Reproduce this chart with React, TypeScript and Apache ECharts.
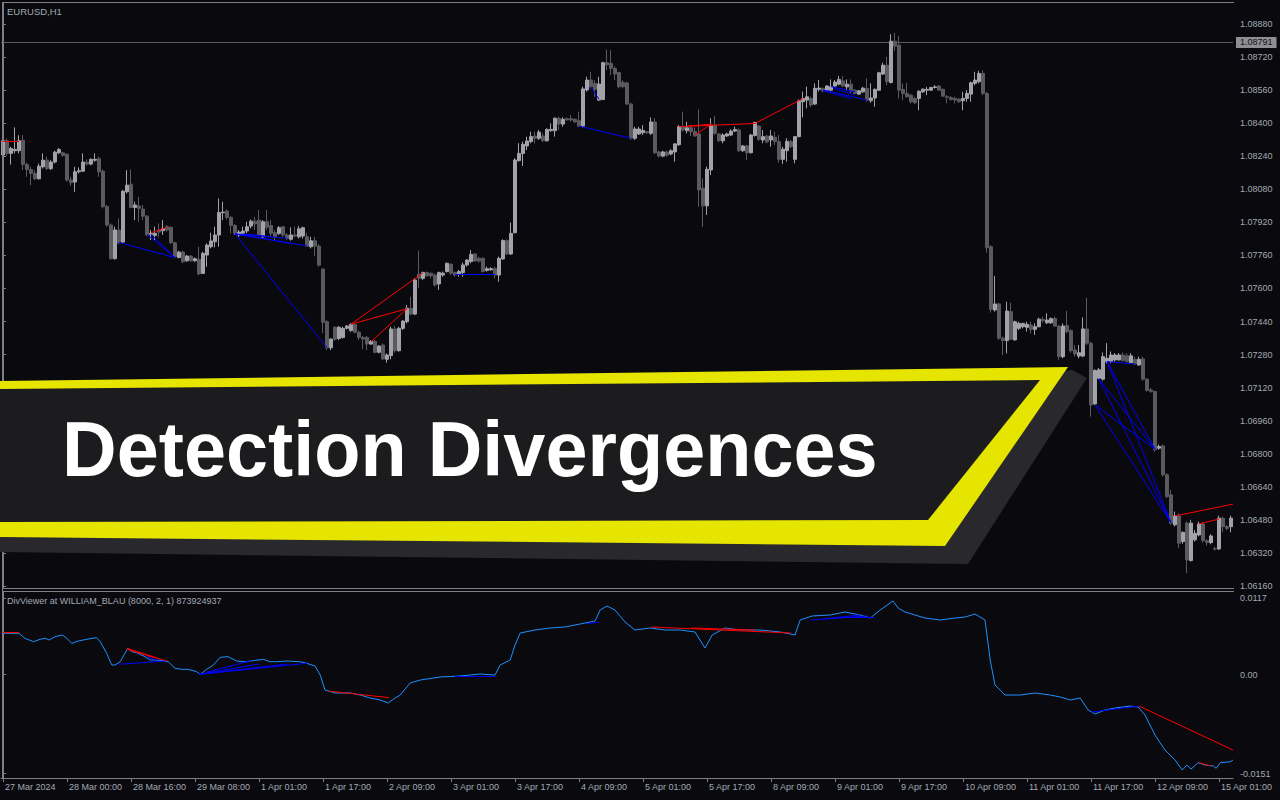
import React, { useEffect, useRef } from 'react';
import * as echarts from 'echarts';

// ---------- texts ----------
const symbolTitle = 'EURUSD,H1';
const indicatorTitle = 'DivViewer at WILLIAM_BLAU (8000, 2, 1) 873924937';
const bannerText = 'Detection Divergences';

// ---------- axis ticks ----------
const dateTicks = ['27 Mar 2024', '28 Mar 00:00', '28 Mar 16:00', '29 Mar 08:00', '1 Apr 01:00', '1 Apr 17:00', '2 Apr 09:00', '3 Apr 01:00', '3 Apr 17:00', '4 Apr 09:00', '5 Apr 01:00', '5 Apr 17:00', '8 Apr 09:00', '9 Apr 01:00', '9 Apr 17:00', '10 Apr 09:00', '11 Apr 01:00', '11 Apr 17:00', '12 Apr 09:00', '15 Apr 01:00'];
const BARS_PER_DATE_TICK = 16;
const priceTicks = [1.0616, 1.0632, 1.0648, 1.0664, 1.068, 1.0696, 1.0712, 1.0728, 1.0744, 1.076, 1.0776, 1.0792, 1.0808, 1.0824, 1.084, 1.0856, 1.0872, 1.0888];
const indicatorTicks = [0.0117, 0, -0.0151];
const bidPrice = 1.08791;
const POINT = 1e-5; // candle values below are in points (1e-5)

// ---------- H1 candles (points) ----------
const opens = [
  108246,108315,108254,108267,108267,108318,108200,108176,108157,108131,
  108189,108221,108180,108212,108257,108257,108250,108125,108115,108165,
  108168,108212,108202,108221,108228,108168,107996,107907,107744,107883,
  107825,108068,108105,107992,107999,107984,107950,107862,107857,107883,
  107880,107899,107896,107821,107750,107776,107734,107757,107734,107741,
  107673,107762,107802,107826,107859,107967,107975,107944,107905,107859,
  107867,107878,107902,107926,107931,107850,107923,107905,107870,107867,
  107899,107859,107838,107859,107850,107854,107850,107802,107831,107805,
  107694,107439,107313,107412,107358,107363,107407,107396,107426,107388,
  107363,107363,107331,107344,107291,107326,107257,107275,107404,107299,
  107407,107439,107504,107476,107669,107649,107677,107674,107665,107622,
  107665,107682,107717,107677,107669,107677,107714,107730,107767,107746,
  107746,107687,107690,107696,107665,107743,107832,107767,107870,108219,
  108254,108290,108311,108338,108327,108338,108315,108364,108364,108424,
  108396,108422,108422,108419,108412,108386,108561,108609,108593,108512,
  108515,108693,108690,108665,108645,108598,108595,108493,108327,108348,
  108354,108359,108351,108406,108261,108241,108261,108251,108261,108296,
  108383,108364,108378,108359,108348,108085,108000,108174,108391,108348,
  108315,108338,108343,108362,108367,108267,108290,108257,108341,108386,
  108319,108338,108319,108332,108311,108225,108267,108311,108225,108335,
  108504,108512,108520,108493,108564,108568,108560,108560,108580,108589,
  108605,108576,108589,108560,108541,108552,108568,108509,108522,108560,
  108638,108681,108597,108797,108778,108564,108544,108536,108520,108520,
  108552,108560,108560,108573,108580,108564,108528,108525,108520,108517,
  108509,108520,108541,108593,108601,108641,108544,107802,107496,107525,
  107359,107348,107488,107351,107407,107415,107412,107423,107402,107415,
  107451,107434,107434,107455,107418,107270,107421,107396,107302,107273,
  107273,107404,107335,107041,107166,107161,107246,107246,107254,107254,
  107278,107274,107241,107257,107230,107259,107161,107109,107101,106827,
  106838,106698,106601,106456,106499,106375,106464,106283,106383,106407,
  106460,106379,106370,106341,106339,106488,106447,106447,
];
const closes = [
  108315,108254,108278,108273,108315,108200,108176,108157,108131,108192,
  108221,108181,108212,108260,108273,108244,108125,108112,108165,108170,
  108212,108202,108225,108225,108165,107996,107907,107744,107883,107821,
  108071,108100,107992,108004,107988,107950,107859,107867,107867,107873,
  107891,107883,107821,107754,107776,107729,107757,107734,107744,107670,
  107770,107810,107830,107859,107968,107970,107944,107905,107867,107873,
  107878,107899,107926,107912,107859,107923,107896,107867,107850,107894,
  107859,107842,107859,107854,107889,107894,107805,107831,107805,107713,
  107436,107313,107355,107354,107412,107407,107418,107426,107388,107363,
  107355,107331,107344,107291,107321,107259,107278,107404,107299,107407,
  107442,107504,107476,107641,107649,107677,107661,107661,107617,107677,
  107674,107722,107674,107665,107682,107714,107738,107765,107733,107733,
  107682,107696,107696,107665,107746,107832,107767,107867,108222,108254,
  108298,108314,108335,108327,108357,108315,108370,108370,108424,108396,
  108419,108416,108416,108406,108386,108566,108609,108577,108564,108590,
  108693,108683,108665,108638,108577,108577,108493,108327,108372,108372,
  108365,108354,108406,108257,108241,108261,108245,108267,108300,108383,
  108367,108378,108359,108338,108077,108000,108177,108391,108351,108315,
  108343,108348,108362,108370,108267,108290,108257,108343,108403,108322,
  108335,108309,108338,108311,108225,108274,108312,108286,108335,108509,
  108520,108528,108488,108569,108570,108557,108580,108576,108599,108612,
  108580,108589,108557,108544,108557,108570,108512,108522,108564,108644,
  108681,108601,108797,108773,108560,108544,108528,108504,108499,108555,
  108565,108564,108573,108576,108560,108531,108525,108515,108512,108504,
  108520,108544,108596,108609,108641,108544,107797,107499,107525,107359,
  107348,107491,107354,107439,107431,107431,107426,107402,107415,107451,
  107444,107447,107454,107418,107270,107418,107391,107299,107283,107289,
  107404,107335,107036,107203,107206,107270,107262,107278,107278,107278,
  107251,107246,107274,107235,107257,107161,107106,107101,106819,106835,
  106698,106593,106464,106499,106367,106419,106286,106464,106415,106460,
  106379,106370,106402,106339,106488,106447,106439,106488,
];
const lows = [
  108234,108241,108200,108254,108254,108173,108141,108100,108125,108128,
  108181,108173,108173,108205,108250,108238,108117,108096,108068,108157,
  108165,108196,108196,108213,108141,107988,107899,107741,107741,107815,
  107821,108060,107988,107931,107923,107931,107854,107834,107831,107850,
  107859,107875,107818,107746,107746,107724,107729,107729,107729,107665,
  107670,107705,107794,107799,107802,107931,107934,107867,107859,107850,
  107859,107867,107891,107883,107854,107842,107883,107850,107834,107859,
  107850,107834,107831,107847,107842,107842,107802,107794,107757,107705,
  107383,107302,107302,107347,107350,107358,107402,107391,107383,107350,
  107305,107302,107326,107286,107286,107254,107241,107257,107289,107294,
  107399,107431,107471,107471,107601,107641,107657,107649,107609,107593,
  107657,107677,107665,107657,107657,107657,107706,107722,107730,107725,
  107677,107682,107687,107649,107633,107738,107762,107762,107867,108214,
  108193,108270,108303,108303,108319,108311,108311,108359,108335,108367,
  108383,108412,108407,108403,108383,108380,108553,108569,108528,108509,
  108512,108657,108633,108609,108569,108569,108488,108319,108319,108343,
  108343,108348,108343,108251,108235,108235,108238,108245,108214,108290,
  108359,108351,108338,108335,107996,107899,107956,108149,108343,108309,
  108303,108335,108338,108357,108262,108261,108222,108254,108335,108315,
  108303,108303,108286,108295,108209,108203,108214,108280,108206,108332,
  108428,108472,108480,108488,108553,108552,108555,108552,108576,108584,
  108576,108560,108544,108541,108536,108547,108504,108499,108480,108557,
  108633,108584,108593,108751,108520,108512,108525,108496,108493,108463,
  108547,108536,108557,108568,108557,108528,108496,108509,108496,108499,
  108463,108504,108504,108584,108593,108536,107773,107483,107488,107351,
  107278,107286,107351,107348,107399,107407,107391,107383,107375,107412,
  107434,107428,107428,107415,107254,107262,107383,107289,107270,107262,
  107267,107326,106980,107036,107161,107154,107238,107238,107246,107251,
  107246,107241,107235,107230,107225,107154,107101,107095,106810,106819,
  106690,106585,106456,106448,106343,106364,106222,106278,106375,106400,
  106370,106355,106362,106330,106335,106420,106430,106420,
];
const highs = [
  108318,108326,108286,108380,108342,108342,108209,108189,108173,108205,
  108254,108238,108221,108267,108280,108262,108254,108141,108189,108186,
  108254,108225,108230,108254,108238,108176,108004,107915,107899,107939,
  108076,108173,108176,108020,108044,108004,107955,107883,107899,107915,
  107931,107907,107902,107826,107783,107783,107762,107762,107750,107802,
  107778,107818,107870,107899,108036,108020,107983,107950,107912,107883,
  107899,107923,107934,107947,107980,107931,107980,107931,107883,107902,
  107902,107867,107896,107899,107902,107899,107870,107850,107850,107815,
  107697,107447,107358,107418,107418,107415,107423,107431,107431,107396,
  107370,107370,107350,107350,107326,107334,107286,107415,107418,107415,
  107447,107520,107560,107649,107783,107682,107682,107677,107674,107682,
  107682,107725,107722,107682,107690,107725,107741,107786,107770,107754,
  107749,107706,107703,107706,107754,107838,107838,107919,108230,108303,
  108311,108335,108359,108359,108367,108351,108375,108399,108428,108432,
  108428,108428,108440,108424,108456,108577,108625,108649,108609,108625,
  108698,108757,108754,108677,108649,108609,108601,108499,108383,108383,
  108391,108362,108428,108424,108267,108267,108267,108274,108303,108391,
  108456,108407,108391,108380,108467,108133,108190,108424,108435,108351,
  108351,108354,108370,108383,108375,108295,108295,108348,108407,108391,
  108367,108343,108367,108359,108343,108286,108327,108319,108338,108515,
  108553,108577,108528,108593,108609,108573,108584,108612,108609,108628,
  108628,108612,108612,108565,108560,108576,108617,108593,108568,108649,
  108693,108722,108831,108838,108822,108593,108596,108541,108528,108560,
  108568,108576,108576,108584,108584,108568,108536,108531,108528,108520,
  108552,108560,108601,108649,108654,108657,108552,107810,107660,107531,
  107367,107536,107531,107444,107439,107434,107439,107439,107431,107459,
  107463,107480,107460,107463,107423,107431,107492,107402,107326,107326,
  107460,107555,107343,107209,107215,107290,107335,107295,107287,107287,
  107290,107287,107287,107270,107270,107270,107166,107118,107106,106845,
  106845,106706,106625,106520,106512,106424,106472,106480,106430,106472,
  106470,106386,106410,106350,106500,106496,106455,106500,
];

// ---------- DivViewer (William Blau) oscillator: bar position, value ----------
const indicatorBars = [0, 4, 5.5, 7.6, 9.3, 10.5, 11.6, 13, 14.7, 15.5, 17.2, 18.8, 21.3, 23.4, 24.3, 25.9, 27.2, 28, 29.3, 30.1, 31.2, 32.2, 33.4, 35.5, 36.8, 38.4, 40.1, 41.3, 43, 44.7, 46.3, 48.4, 49.3, 50.9, 52.6, 54.3, 56.3, 58.4, 60.5, 62.6, 65.1, 66.8, 68.4, 70.9, 74.3, 75.9, 78, 79.3, 80.5, 83, 86.8, 89.3, 91.8, 94.3, 96.3, 98, 99.3, 101.8, 104.3, 109.3, 114.3, 119.3, 123, 124.3, 126.8, 128, 129.3, 133, 136.8, 140.5, 144.3, 148, 149.3, 151, 153, 155.5, 158, 161.8, 165.5, 169.3, 173, 175.5, 177.3, 180.5, 184.3, 189.3, 194.3, 198, 199.3, 202.3, 206.8, 210.5, 214.3, 216.8, 219.3, 222.5, 223.8, 225.5, 228, 230.5, 234.3, 238, 240.5, 243, 245.5, 246.8, 248, 250.5, 254.3, 258, 261.8, 264.3, 266.8, 269.3, 271.3, 273, 275.5, 278, 281.8, 283.8, 285.5, 288, 290.5, 293, 294.8, 296, 297, 298.8, 300.5, 302.6, 303.3, 304.3, 306.8, 307.5];
const indicatorValues = [0.00632, 0.00632, 0.00555, 0.00504, 0.0054, 0.00555, 0.0053, 0.0058, 0.00606, 0.0058, 0.00479, 0.00514, 0.00545, 0.00565, 0.00504, 0.00327, 0.00148, 0.00148, 0.00198, 0.00285, 0.00403, 0.00351, 0.00336, 0.00275, 0.00224, 0.00224, 0.00214, 0.00198, 0.00098, 0.00082, 0.00082, 0.00046, 0.00006, 0.00082, 0.00148, 0.00266, 0.00275, 0.00209, 0.00198, 0.00214, 0.00235, 0.00198, 0.00198, 0.00209, 0.00198, 0.00174, 0.00133, -0.00005, -0.00233, -0.00279, -0.00279, -0.0031, -0.00356, -0.00386, -0.00432, -0.00356, -0.0031, -0.00127, -0.00081, -0.00035, -0.0002, 0.00011, -0.00005, 0.00148, 0.00224, 0.00453, 0.00636, 0.00682, 0.00713, 0.00728, 0.00774, 0.00819, 0.00987, 0.01048, 0.00987, 0.00804, 0.00682, 0.00713, 0.00682, 0.00682, 0.00652, 0.00407, 0.00606, 0.00713, 0.00682, 0.00682, 0.00652, 0.00606, 0.00835, 0.00896, 0.00911, 0.00957, 0.00911, 0.00865, 0.00987, 0.01125, 0.01018, 0.00957, 0.00911, 0.00865, 0.00835, 0.00865, 0.0088, 0.00926, 0.00835, 0.00224, -0.00157, -0.0031, -0.0031, -0.00279, -0.0031, -0.0034, -0.00386, -0.00356, -0.00539, -0.006, -0.00539, -0.00508, -0.00478, -0.00493, -0.00615, -0.0092, -0.01149, -0.01302, -0.01454, -0.0138, -0.0144, -0.01343, -0.01378, -0.01393, -0.01428, -0.01343, -0.01328, -0.01302];

// ---------- divergence segments [bar1, value1, bar2, value2] ----------
const priceRedLines = [
  [0, 108315, 4, 108315], [37, 107870, 41, 107896], [87, 107427, 105, 107676], [87, 107427, 101, 107502],
  [92, 107342, 101, 107502], [169, 108383, 188, 108399], [171, 108386, 177, 108395], [173, 108343, 177, 108395],
  [188, 108399, 200, 108520], [293, 106499, 307.5, 106556], [299, 106460, 304, 106484],
];
const priceBlueLines = [
  [29, 107823, 43, 107749], [36, 107862, 43, 107749], [37, 107862, 43, 107749], [58, 107864, 81, 107313],
  [58, 107864, 76, 107806], [58, 107864, 71, 107843], [58, 107864, 72, 107819], [60, 107864, 67, 107851],
  [113, 107669, 123, 107669], [147, 108574, 149, 108516], [144, 108386, 157, 108327], [205, 108561, 216, 108512],
  [207, 108577, 213, 108552], [207.6, 108569, 213, 108536], [205, 108557, 212, 108520], [276, 107246, 283, 107234],
  [276, 107246, 288, 106822], [276, 107246, 292, 106466], [274, 107160, 288, 106822], [274, 107160, 292, 106466],
  [273, 107036, 288, 106822], [273, 107036, 292, 106466],
];
const indicatorRedLines = [
  [0, 0.0065, 4, 0.0065], [31, 0.00403, 40.9, 0.00209], [31, 0.00388, 38.4, 0.0025], [81.5, -0.0025, 96.5, -0.0035],
  [162, 0.00728, 197, 0.00636], [172, 0.00713, 188, 0.00682], [284, -0.00478, 307.5, -0.01149], [299, -0.01343, 302, -0.01393],
];
const indicatorBlueLines = [
  [29, 0.00159, 40.5, 0.00209], [36, 0.00275, 38.4, 0.00224], [49, 0.00006, 76, 0.00174], [49, 0.00006, 71, 0.00163],
  [49, 0.00006, 64, 0.00163], [51, 0.0004, 62, 0.00214], [113, -0.0002, 123, -0.0002], [146, 0.0078, 149, 0.008],
  [202, 0.00835, 216, 0.00896], [205, 0.0085, 214, 0.00911], [208, 0.0088, 218, 0.0088], [272, -0.0057, 284, -0.0048],
];

// ---------- styles ----------
const BG = '#0a0a0e';
const FRAME = '#7e7e86';
const LABEL = '#a3a9b3';
const BULL = '#a2a2aa';
const BEAR = '#5a5a60';
const FONT = '"Liberation Sans", Arial, sans-serif';

export default function App() {
  const ref = useRef<HTMLDivElement>(null);

  useEffect(() => {
    if (!ref.current) return;
    const chart = echarts.init(ref.current, undefined, { renderer: 'svg' });
    const n = opens.length;
    const cats = opens.map((_, i) => String(i));
    const candleData = opens.map((o, i) => {
      const c = closes[i];
      const l = Math.min(lows[i], o, c);
      const h = Math.max(highs[i], o, c);
      return [o * POINT, c * POINT, l * POINT, h * POINT];
    });
    const indData = indicatorBars.map((x, k) => [x, indicatorValues[k]]);
    const segs = (arr: number[][], scale: number) =>
      arr.map((s) => ({ coords: [[s[0], s[1] * scale], [s[2], s[3] * scale]] }));
    const showDate = (i: number) => i % BARS_PER_DATE_TICK === 0;

    const line = (x1: number, y1: number, x2: number, y2: number) => ({
      type: 'line', silent: true, z: 5,
      shape: { x1, y1, x2, y2 }, style: { stroke: FRAME, lineWidth: 1 },
    });

    const option: any = {
      backgroundColor: BG,
      animation: false,
      textStyle: { fontFamily: FONT },
      grid: [
        { left: 1, top: 3, width: 1232, height: 585 },
        { left: 1, top: 592, width: 1232, height: 186 },
      ],
      xAxis: [
        { type: 'category', gridIndex: 0, data: cats, boundaryGap: true, show: false },
        {
          type: 'category', gridIndex: 1, data: cats, boundaryGap: true, position: 'bottom',
          axisLine: { show: true, onZero: false, lineStyle: { color: FRAME } },
          axisTick: { show: true, alignWithLabel: true, interval: (i: number) => showDate(i), length: 4, lineStyle: { color: FRAME } },
          axisLabel: {
            interval: (i: number) => showDate(i),
            formatter: (_v: string, i: number) => (showDate(i) ? dateTicks[i / BARS_PER_DATE_TICK] ?? '' : ''),
            color: LABEL, fontSize: 9, fontFamily: FONT, align: 'left', margin: 4, padding: [0, 0, 0, 2],
          },
          splitLine: { show: false },
        },
        { type: 'value', gridIndex: 0, min: -0.5, max: n - 0.5, show: false },
        { type: 'value', gridIndex: 1, min: -0.5, max: n - 0.5, show: false },
      ],
      yAxis: [
        {
          type: 'value', gridIndex: 0, position: 'right', min: 1.0615, max: 1.08982,
          axisLine: { show: true, lineStyle: { color: FRAME } },
          axisTick: { show: true, length: 3, customValues: priceTicks, lineStyle: { color: FRAME } },
          axisLabel: { customValues: priceTicks, formatter: (v: number) => v.toFixed(5), color: LABEL, fontSize: 9, fontFamily: FONT, margin: 7 },
          splitLine: { show: false },
        },
        {
          type: 'value', gridIndex: 1, position: 'right', min: -0.01576, max: 0.01262,
          axisLine: { show: true, lineStyle: { color: FRAME } },
          axisTick: { show: true, length: 3, customValues: indicatorTicks, lineStyle: { color: FRAME } },
          axisLabel: { customValues: indicatorTicks, formatter: (v: number) => (v === 0 ? '0.00' : v.toFixed(4)), color: LABEL, fontSize: 9, fontFamily: FONT, margin: 7 },
          splitLine: { show: false },
        },
      ],
      series: [
        {
          type: 'line', xAxisIndex: 2, yAxisIndex: 0, symbol: 'none', showSymbol: false, z: 1,
          data: [[-0.5, bidPrice], [n - 0.5, bidPrice]],
          lineStyle: { color: '#5e5e64', width: 1 },
          endLabel: {
            show: true, formatter: () => bidPrice.toFixed(5), distance: 3,
            backgroundColor: '#8e8e94', color: '#101014', fontSize: 9, fontFamily: FONT, padding: [1, 4, 1, 4],
          },
        },
        {
          type: 'candlestick', xAxisIndex: 0, yAxisIndex: 0, data: candleData, barWidth: 3, z: 2,
          itemStyle: { color: BULL, color0: BEAR, borderColor: BULL, borderColor0: BEAR, borderWidth: 1 },
        },
        {
          type: 'lines', coordinateSystem: 'cartesian2d', xAxisIndex: 2, yAxisIndex: 0,
          data: segs(priceBlueLines, POINT), lineStyle: { color: '#0000ff', width: 1, opacity: 1 }, z: 3,
        },
        {
          type: 'lines', coordinateSystem: 'cartesian2d', xAxisIndex: 2, yAxisIndex: 0,
          data: segs(priceRedLines, POINT), lineStyle: { color: '#ff0000', width: 1, opacity: 1 }, z: 3,
        },
        {
          type: 'line', xAxisIndex: 3, yAxisIndex: 1, data: indData, showSymbol: false, symbol: 'none',
          lineStyle: { color: '#1e90ff', width: 1 }, z: 2,
        },
        {
          type: 'lines', coordinateSystem: 'cartesian2d', xAxisIndex: 3, yAxisIndex: 1,
          data: segs(indicatorBlueLines, 1), lineStyle: { color: '#0000ff', width: 1, opacity: 1 }, z: 3,
        },
        {
          type: 'lines', coordinateSystem: 'cartesian2d', xAxisIndex: 3, yAxisIndex: 1,
          data: segs(indicatorRedLines, 1), lineStyle: { color: '#ff0000', width: 1, opacity: 1 }, z: 3,
        },
      ],
      graphic: [
        line(2.5, 2, 2.5, 779),
        line(2, 2.5, 1234, 2.5),
        line(2, 588.5, 1234, 588.5),
        line(2, 591.5, 1234, 591.5),
        {
          type: 'text', x: 7, y: 11, silent: true, z: 5,
          style: { text: symbolTitle, fill: LABEL, fontSize: 9.5, fontFamily: FONT, textVerticalAlign: 'middle' },
        },
        {
          type: 'text', x: 7, y: 601, silent: true, z: 5,
          style: { text: indicatorTitle, fill: LABEL, fontSize: 9, fontFamily: FONT, textVerticalAlign: 'middle' },
        },
        {
          type: 'polygon', silent: true, z: 100,
          shape: { points: [[0, 536], [1072, 370], [1087, 378], [968, 564], [0, 552]] },
          style: { fill: '#29292d' },
        },
        {
          type: 'polygon', silent: true, z: 101,
          shape: { points: [[0, 381], [1068, 367], [945, 546], [0, 537]] },
          style: { fill: '#e5e500' },
        },
        {
          type: 'polygon', silent: true, z: 102,
          shape: { points: [[0, 389], [1040, 380], [928, 520], [0, 522]] },
          style: { fill: '#1c1c1e' },
        },
        {
          type: 'text', x: 62, y: 449, scaleX: 0.97, silent: true, z: 103,
          style: {
            text: bannerText, fill: '#ffffff', fontSize: 78, fontWeight: 'bold',
            fontFamily: FONT, textVerticalAlign: 'middle',
          },
        },
      ],
    };
    chart.setOption(option);
    return () => chart.dispose();
  }, []);

  return <div ref={ref} style={{ position: 'fixed', left: 0, top: 0, width: 1280, height: 800 }} />;
}
